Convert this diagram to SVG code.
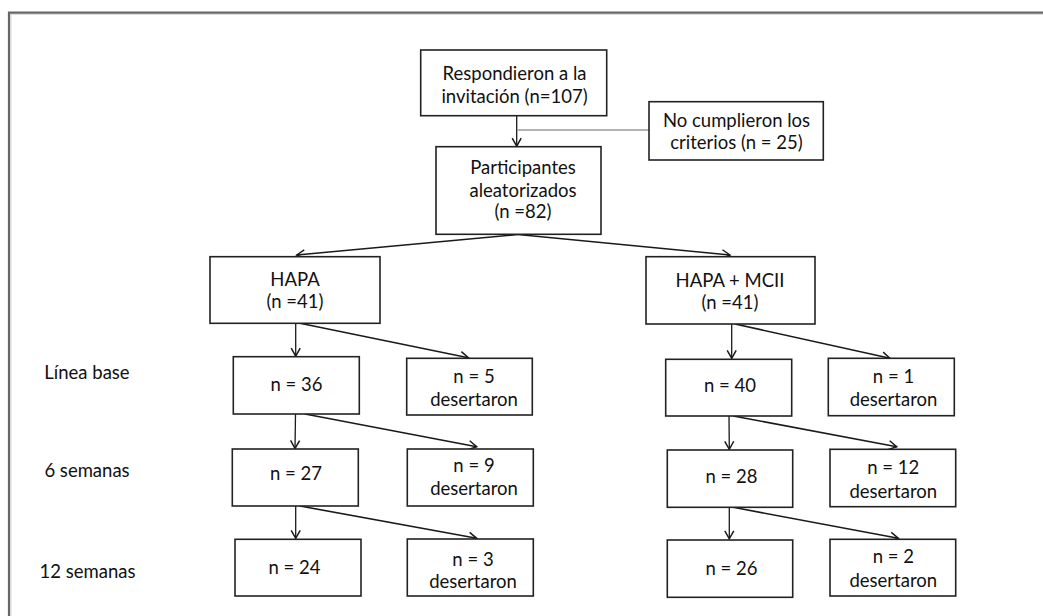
<svg xmlns="http://www.w3.org/2000/svg" width="1043" height="616" viewBox="0 0 1043 616">
<style>
.box{fill:#fff;stroke:#222;stroke-width:1.6}
.t{font-family:Lato,"Liberation Sans",sans-serif;font-size:18.5px;fill:#111;text-anchor:middle}
.c{fill:none;stroke:#1a1a1a;stroke-width:1.6}
.v{fill:none;stroke:#1a1a1a;stroke-width:1.3}
</style>
<defs>
<marker id="arr" viewBox="-10 -6 12 12" markerWidth="12" markerHeight="12" refX="0" refY="0" orient="auto" markerUnits="userSpaceOnUse">
<path d="M-8,-4.5 L0,0 L-8,4.5" fill="none" stroke="#1a1a1a" stroke-width="1.5"/>
</marker>
</defs>
<rect width="1043" height="616" fill="#fff"/>
<g id="frame">
<path d="M11,616 V14.5 H1043" fill="none" stroke="#dcdcdc" stroke-width="1.2"/>
<path d="M9,616 V12.7 H1043" fill="none" stroke="#666" stroke-width="2.2"/>
</g>
<g id="connectors">
<line class="v" x1="516.7" y1="115.7" x2="516.7" y2="146.2" marker-end="url(#arr)"/>
<line x1="517.5" y1="130" x2="649" y2="130" stroke="#9a9a9a" stroke-width="1.5"/>
<line class="c" x1="518" y1="234.5" x2="296.7" y2="255" marker-end="url(#arr)"/>
<line class="c" x1="518" y1="234.5" x2="730" y2="255" marker-end="url(#arr)"/>
<line class="v" x1="295.7" y1="323.3" x2="295.7" y2="356.2" marker-end="url(#arr)"/>
<line class="c" x1="300" y1="323.3" x2="468.3" y2="357.7" marker-end="url(#arr)"/>
<line class="v" x1="295.5" y1="414" x2="295" y2="448.5" marker-end="url(#arr)"/>
<line class="c" x1="305" y1="414" x2="476.7" y2="446.7" marker-end="url(#arr)"/>
<line class="v" x1="295.7" y1="506" x2="295.7" y2="538.3" marker-end="url(#arr)"/>
<line class="c" x1="300" y1="506" x2="476.7" y2="538.3" marker-end="url(#arr)"/>
<line class="v" x1="731.7" y1="324" x2="731.7" y2="358.3" marker-end="url(#arr)"/>
<line class="c" x1="735" y1="324" x2="890" y2="358.3" marker-end="url(#arr)"/>
<line class="v" x1="729" y1="416" x2="729.3" y2="449.3" marker-end="url(#arr)"/>
<line class="c" x1="733.3" y1="416" x2="896.7" y2="446.7" marker-end="url(#arr)"/>
<line class="v" x1="729.3" y1="507.3" x2="729.3" y2="538.8" marker-end="url(#arr)"/>
<line class="c" x1="733.3" y1="507.3" x2="898.3" y2="538.3" marker-end="url(#arr)"/>
</g>
<g id="respondieron">
<rect class="box" x="420.7" y="50" width="186" height="65.7"/>
<text class="t" x="514.5" y="80">Respondieron a la</text>
<text class="t" x="514.5" y="103">invitación (n=107)</text>
</g>
<g id="no-cumplieron">
<rect class="box" x="649" y="101.7" width="174.3" height="58.3"/>
<text class="t" x="736.5" y="126.5">No cumplieron los</text>
<text class="t" x="736.5" y="148.5">criterios (n = 25)</text>
</g>
<g id="participantes">
<rect class="box" x="436" y="146.7" width="165" height="87.6"/>
<text class="t" x="523" y="174">Participantes</text>
<text class="t" x="523" y="196.5">aleatorizados</text>
<text class="t" x="523" y="218">(n =82)</text>
</g>
<g id="hapa">
<rect class="box" x="210" y="256.7" width="170" height="66.6"/>
<text class="t" x="295" y="285.5">HAPA</text>
<text class="t" x="295" y="308">(n =41)</text>
</g>
<g id="hapa-mcii">
<rect class="box" x="646" y="256.7" width="169" height="67.3"/>
<text class="t" x="730" y="286.5">HAPA + MCII</text>
<text class="t" x="730" y="308.5">(n =41)</text>
</g>
<g id="label-linea-base"><text class="t" x="87" y="379">Línea base</text></g>
<g id="label-6-semanas"><text class="t" x="87" y="476.7">6 semanas</text></g>
<g id="label-12-semanas"><text class="t" x="87.5" y="578.3">12 semanas</text></g>
<g id="hapa-n36">
<rect class="box" x="233.3" y="356.7" width="126" height="57.3"/>
<text class="t" x="296.5" y="390.5">n = 36</text>
</g>
<g id="hapa-d5">
<rect class="box" x="406.7" y="358.3" width="125.6" height="56.7"/>
<text class="t" x="474" y="382.5">n = 5</text>
<text class="t" x="474" y="406">desertaron</text>
</g>
<g id="mcii-n40">
<rect class="box" x="665.7" y="359.3" width="126" height="56.7"/>
<text class="t" x="730" y="391.5">n = 40</text>
</g>
<g id="mcii-d1">
<rect class="box" x="828.3" y="358.3" width="126" height="57.4"/>
<text class="t" x="893.5" y="382.5">n = 1</text>
<text class="t" x="893.5" y="406">desertaron</text>
</g>
<g id="hapa-n27">
<rect class="box" x="232.3" y="449" width="126" height="57"/>
<text class="t" x="296" y="480">n = 27</text>
</g>
<g id="hapa-d9">
<rect class="box" x="407.3" y="449" width="126" height="57"/>
<text class="t" x="474" y="471.5">n = 9</text>
<text class="t" x="474" y="495">desertaron</text>
</g>
<g id="mcii-n28">
<rect class="box" x="667.3" y="450" width="125.4" height="57.3"/>
<text class="t" x="731.5" y="482.5">n = 28</text>
</g>
<g id="mcii-d12">
<rect class="box" x="830" y="449.3" width="125.7" height="57.4"/>
<text class="t" x="893.3" y="474.3">n = 12</text>
<text class="t" x="893.3" y="497.7">desertaron</text>
</g>
<g id="hapa-n24">
<rect class="box" x="235" y="539.3" width="126" height="56.7"/>
<text class="t" x="294.5" y="574">n = 24</text>
</g>
<g id="hapa-d3">
<rect class="box" x="407.3" y="539" width="126" height="57"/>
<text class="t" x="473" y="566">n = 3</text>
<text class="t" x="473" y="588.3">desertaron</text>
</g>
<g id="mcii-n26">
<rect class="box" x="667.3" y="540" width="125.4" height="57.3"/>
<text class="t" x="731.5" y="575">n = 26</text>
</g>
<g id="mcii-d2">
<rect class="box" x="830" y="539.3" width="125.7" height="56.7"/>
<text class="t" x="893.3" y="563.3">n = 2</text>
<text class="t" x="893.3" y="586.7">desertaron</text>
</g>
</svg>
